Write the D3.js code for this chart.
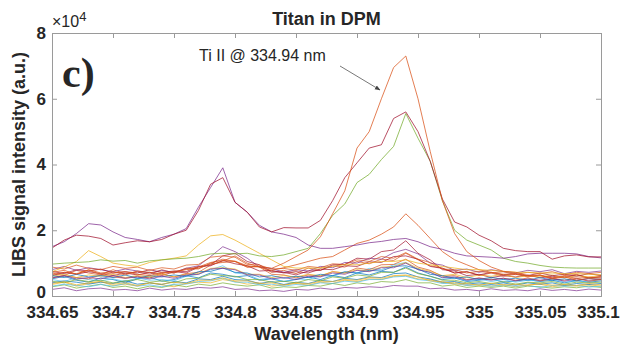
<!DOCTYPE html>
<html>
<head>
<meta charset="utf-8">
<script src="https://cdn.jsdelivr.net/npm/d3@7/dist/d3.min.js"></script>
<style>
  body { margin: 0; background: #fff; }
  text { font-family: "Liberation Sans", Arial, sans-serif; fill: #262626; }
</style>
</head>
<body>
<svg id="chart" width="620" height="348"></svg>
<script>
// wavelength grid (nm), intensities in units of 1e4 a.u.
const wavelength = [334.65,334.66,334.67,334.68,334.69,334.70,334.71,334.72,334.73,334.74,
  334.75,334.76,334.77,334.78,334.79,334.80,334.81,334.82,334.83,334.84,
  334.85,334.86,334.87,334.88,334.89,334.90,334.91,334.92,334.93,334.94,
  334.95,334.96,334.97,334.98,334.99,335.00,335.01,335.02,335.03,335.04,
  335.05,335.06,335.07,335.08,335.09,335.10];

const xTicks = [334.65, 334.7, 334.75, 334.8, 334.85, 334.9, 334.95, 335, 335.05, 335.1];
const xTickLabels = ["334.65","334.7","334.75","334.8","334.85","334.9","334.95","335","335.05","335.1"];
const yTicks = [0, 2, 4, 6, 8];

const orangePeak = [0.72,0.78,0.66,0.8,0.7,0.74,0.64,0.76,0.72,0.68,0.75,0.8,0.84,0.98,1.02,1.05,0.88,0.9,0.84,1.0,
  1.2,1.4,1.8,2.5,3.2,4.5,5.0,6.0,6.95,7.3,6.0,4.4,2.9,1.9,1.35,1.08,0.88,0.75,0.72,0.62,
  0.64,0.52,0.58,0.48,0.54,0.5];
const redPeak = [1.46,1.7,1.85,1.82,1.75,1.55,1.62,1.68,1.65,1.72,1.88,2.0,2.6,3.4,3.6,2.85,2.55,2.1,1.95,2.08,
  2.07,2.07,2.3,2.9,3.6,4.05,4.5,4.6,5.4,5.6,5.0,4.1,2.95,2.25,2.1,1.85,1.68,1.45,1.38,1.35,
  1.35,1.12,1.22,1.25,1.19,1.19];
const purplePeak = [1.5,1.65,1.9,2.2,2.16,1.95,1.78,1.72,1.65,1.78,1.88,2.05,2.7,3.3,3.9,2.85,2.55,2.15,1.95,1.88,
  1.78,1.55,1.45,1.45,1.5,1.55,1.62,1.66,1.72,1.75,1.65,1.5,1.42,1.3,1.22,1.2,1.18,1.15,1.2,1.28,
  1.3,1.3,1.3,1.28,1.2,1.16];
const greenPeak = [0.97,1.0,1.02,1.04,1.1,1.06,1.08,1.0,1.07,1.1,1.13,1.15,1.2,1.28,1.3,1.28,1.3,1.22,1.2,1.25,
  1.35,1.45,1.9,2.45,2.8,3.45,3.7,4.15,4.55,5.55,4.8,4.1,2.9,2.0,1.7,1.55,1.4,1.15,1.05,1.0,
  0.93,0.88,0.86,0.85,0.85,0.85];
const yellowLine = [0.74,0.88,1.05,1.38,1.2,1.0,0.94,0.9,1.02,1.1,1.15,1.22,1.55,1.83,1.87,1.7,1.5,1.3,1.1,0.9,
  0.85,0.85,0.85,0.9,0.95,0.95,1.0,1.05,1.05,1.1,1.0,0.95,0.9,0.85,0.8,0.8,0.78,0.75,0.72,0.72,
  0.7,0.7,0.68,0.68,0.66,0.65];
const orangeSmall = [0.65,0.72,0.68,0.78,0.66,0.7,0.74,0.66,0.62,0.72,0.7,0.82,0.88,1.02,1.08,1.06,0.92,0.88,0.78,0.86,
  0.95,1.05,1.15,1.2,1.4,1.6,1.7,1.88,2.1,2.5,2.15,1.75,1.35,1.1,0.95,0.8,0.72,0.66,0.68,0.6,
  0.62,0.55,0.6,0.54,0.57,0.55];

const background = [
  [0.52,0.6,0.48,0.42,0.55,0.5,0.4,0.52,0.58,0.45,0.5,0.62,0.55,0.7,0.66,0.58,0.62,0.48,0.52,0.44,0.5,0.58,0.5,0.62,0.56,0.7,0.64,0.75,0.72,0.88,0.7,0.6,0.5,0.55,0.44,0.48,0.52,0.42,0.46,0.5,0.44,0.48,0.4,0.47,0.42,0.46],
  [0.7,0.62,0.78,0.7,0.64,0.8,0.68,0.74,0.66,0.8,0.7,0.85,0.82,1.0,1.12,1.05,0.88,0.9,0.72,0.78,0.68,0.85,0.78,0.92,0.88,1.05,0.98,1.12,1.08,1.3,1.1,0.92,0.85,0.7,0.74,0.62,0.7,0.6,0.66,0.58,0.64,0.55,0.62,0.66,0.55,0.6],
  [0.35,0.42,0.3,0.38,0.44,0.32,0.36,0.3,0.4,0.34,0.28,0.38,0.42,0.4,0.5,0.44,0.36,0.4,0.3,0.34,0.38,0.33,0.42,0.38,0.48,0.44,0.52,0.5,0.6,0.62,0.52,0.5,0.4,0.42,0.32,0.36,0.3,0.35,0.28,0.34,0.36,0.28,0.33,0.3,0.34,0.3],
  [0.8,0.9,0.78,0.86,0.8,0.74,0.82,0.76,0.7,0.78,0.72,0.84,0.92,1.2,1.5,1.35,1.15,0.88,0.84,0.72,0.8,0.76,0.9,0.86,1.02,1.0,1.15,1.12,1.32,1.42,1.28,1.0,0.94,0.78,0.82,0.72,0.8,0.74,0.7,0.78,0.74,0.8,0.68,0.75,0.72,0.76],
  [0.28,0.34,0.24,0.3,0.36,0.26,0.3,0.22,0.3,0.26,0.34,0.28,0.36,0.32,0.4,0.34,0.3,0.34,0.24,0.28,0.26,0.32,0.3,0.38,0.32,0.4,0.36,0.44,0.42,0.5,0.4,0.4,0.3,0.34,0.26,0.3,0.26,0.3,0.24,0.3,0.28,0.24,0.28,0.25,0.3,0.26],
  [0.5,0.44,0.56,0.5,0.46,0.52,0.44,0.55,0.48,0.5,0.46,0.6,0.66,0.8,0.92,0.7,0.66,0.5,0.55,0.44,0.52,0.5,0.62,0.6,0.72,0.7,0.84,0.8,0.95,1.02,0.8,0.72,0.55,0.56,0.46,0.52,0.44,0.5,0.42,0.48,0.45,0.52,0.42,0.46,0.44,0.5],
  [0.62,0.72,0.66,0.74,0.68,0.62,0.7,0.64,0.72,0.62,0.74,0.7,0.88,0.95,1.22,1.3,1.05,0.95,0.74,0.72,0.64,0.76,0.78,0.95,0.96,1.15,1.12,1.35,1.4,1.68,1.3,1.1,0.8,0.76,0.62,0.66,0.56,0.62,0.58,0.64,0.55,0.6,0.56,0.64,0.55,0.58],
  [0.4,0.46,0.42,0.36,0.42,0.38,0.46,0.36,0.4,0.35,0.44,0.4,0.52,0.5,0.6,0.5,0.48,0.38,0.44,0.35,0.42,0.38,0.48,0.44,0.54,0.5,0.58,0.56,0.68,0.7,0.58,0.52,0.42,0.44,0.36,0.4,0.35,0.4,0.33,0.4,0.36,0.4,0.32,0.38,0.35,0.38],
  [0.55,0.62,0.56,0.52,0.64,0.58,0.54,0.6,0.55,0.66,0.58,0.68,0.72,0.94,1.06,1.22,1.0,0.88,0.66,0.64,0.55,0.64,0.6,0.74,0.7,0.85,0.8,0.95,0.96,1.12,0.88,0.78,0.6,0.62,0.5,0.55,0.5,0.54,0.48,0.55,0.46,0.52,0.48,0.54,0.45,0.5],
  [0.6,0.66,0.56,0.64,0.6,0.66,0.56,0.62,0.58,0.68,0.58,0.66,0.68,0.84,0.86,0.82,0.66,0.66,0.56,0.62,0.58,0.66,0.62,0.74,0.7,0.8,0.76,0.88,0.9,1.02,0.84,0.75,0.62,0.66,0.56,0.64,0.6,0.66,0.56,0.62,0.58,0.64,0.55,0.62,0.58,0.62],
  [0.2,0.25,0.16,0.22,0.24,0.18,0.2,0.16,0.24,0.18,0.22,0.2,0.26,0.24,0.28,0.2,0.22,0.16,0.18,0.14,0.2,0.18,0.24,0.2,0.26,0.24,0.28,0.26,0.32,0.3,0.3,0.22,0.24,0.18,0.2,0.16,0.22,0.17,0.19,0.16,0.22,0.17,0.2,0.16,0.21,0.18],
  [0.45,0.4,0.5,0.44,0.48,0.4,0.46,0.5,0.42,0.46,0.4,0.52,0.54,0.66,0.62,0.6,0.5,0.5,0.42,0.45,0.4,0.5,0.46,0.58,0.54,0.64,0.6,0.72,0.72,0.85,0.68,0.6,0.48,0.48,0.4,0.44,0.38,0.44,0.36,0.42,0.4,0.44,0.36,0.42,0.4,0.42],
  [0.3,0.36,0.32,0.28,0.35,0.3,0.38,0.3,0.34,0.28,0.36,0.36,0.44,0.46,0.54,0.42,0.42,0.34,0.36,0.3,0.35,0.32,0.4,0.38,0.45,0.42,0.5,0.5,0.58,0.6,0.5,0.46,0.38,0.38,0.32,0.34,0.3,0.33,0.3,0.32,0.26,0.32,0.3,0.32,0.27,0.3],
  [0.75,0.68,0.8,0.76,0.82,0.7,0.74,0.7,0.8,0.72,0.76,0.74,0.9,0.92,1.08,0.98,0.92,0.76,0.78,0.7,0.74,0.7,0.82,0.8,0.92,0.9,1.04,1.02,1.2,1.22,1.12,0.9,0.84,0.7,0.74,0.64,0.72,0.64,0.68,0.62,0.7,0.62,0.66,0.6,0.68,0.62],
  [0.62,0.56,0.66,0.58,0.62,0.56,0.64,0.54,0.62,0.58,0.64,0.6,0.74,0.75,0.85,0.72,0.7,0.58,0.62,0.54,0.6,0.56,0.66,0.62,0.74,0.7,0.78,0.76,0.9,0.92,0.82,0.66,0.62,0.54,0.58,0.5,0.57,0.5,0.54,0.48,0.56,0.48,0.52,0.46,0.54,0.5],
  [0.88,0.82,0.94,0.84,0.8,0.9,0.84,0.88,0.78,0.86,0.82,0.94,0.96,1.18,1.22,1.18,0.96,0.94,0.82,0.84,0.78,0.9,0.86,0.98,0.96,1.1,1.05,1.2,1.15,1.32,1.12,1.02,0.82,0.8,0.7,0.75,0.7,0.74,0.65,0.72,0.68,0.74,0.64,0.72,0.68,0.72],
  [0.38,0.44,0.34,0.4,0.44,0.36,0.4,0.32,0.4,0.36,0.42,0.38,0.48,0.48,0.55,0.46,0.46,0.38,0.4,0.33,0.4,0.37,0.45,0.44,0.5,0.48,0.56,0.54,0.62,0.64,0.58,0.46,0.44,0.36,0.38,0.32,0.39,0.33,0.36,0.32,0.38,0.33,0.35,0.32,0.38,0.34],
  [0.55,0.62,0.52,0.56,0.52,0.62,0.54,0.58,0.52,0.6,0.54,0.64,0.66,0.82,0.84,0.8,0.64,0.64,0.52,0.56,0.5,0.6,0.58,0.7,0.66,0.78,0.74,0.86,0.86,1.0,0.8,0.72,0.56,0.58,0.48,0.54,0.48,0.54,0.46,0.52,0.48,0.54,0.45,0.52,0.48,0.52]
];

// matlab default color order
const colorOrder = ["#0072BD","#D95319","#EDB120","#7E2F8E","#77AC30","#4DBEEE","#A2142F"];

const margin = { left: 52, right: 19, top: 33, bottom: 52 };
const W = 620, H = 348;

const svg = d3.select("#chart");

const x = d3.scaleLinear().domain([334.65, 335.1]).range([margin.left, W - margin.right]);
const y = d3.scaleLinear().domain([0, 8]).range([H - margin.bottom, margin.top]);

svg.append("defs").append("clipPath").attr("id", "plotclip")
  .append("rect")
  .attr("x", x.range()[0]).attr("y", y.range()[1])
  .attr("width", x.range()[1] - x.range()[0])
  .attr("height", y.range()[0] - y.range()[1]);

const line = d3.line()
  .x((d, i) => x(wavelength[i]))
  .y(d => y(d));

const plot = svg.append("g").attr("clip-path", "url(#plotclip)");

background.forEach((s, k) => {
  plot.append("path")
    .attr("d", line(s))
    .attr("fill", "none")
    .attr("stroke", colorOrder[k % colorOrder.length])
    .attr("stroke-opacity", 0.7)
    .attr("stroke-width", 1);
});

const mainSeries = [
  { values: orangeSmall, color: colorOrder[1] },
  { values: yellowLine, color: colorOrder[2] },
  { values: greenPeak, color: colorOrder[4] },
  { values: purplePeak, color: colorOrder[3] },
  { values: redPeak, color: colorOrder[6] },
  { values: orangePeak, color: colorOrder[1] }
];

mainSeries.forEach(s => {
  plot.append("path")
    .attr("d", line(s.values))
    .attr("fill", "none")
    .attr("stroke", s.color)
    .attr("stroke-opacity", 0.75)
    .attr("stroke-width", 1);
});

// axes box + inward ticks
const axisColor = "#9a9a9a";
const gx = svg.append("g").attr("transform", `translate(0,${y(0)})`)
  .call(d3.axisBottom(x).tickValues(xTicks).tickSize(-5).tickPadding(10)
    .tickFormat((d, i) => xTickLabels[i]));
const gxTop = svg.append("g").attr("transform", `translate(0,${y(8)})`)
  .call(d3.axisTop(x).tickValues(xTicks).tickSize(-5).tickFormat(""));
const gy = svg.append("g").attr("transform", `translate(${x(334.65)},0)`)
  .call(d3.axisLeft(y).tickValues(yTicks).tickSize(-5).tickPadding(6));
const gyRight = svg.append("g").attr("transform", `translate(${x(335.1)},0)`)
  .call(d3.axisRight(y).tickValues(yTicks).tickSize(-5).tickFormat(""));

[gx, gxTop, gy, gyRight].forEach(g => {
  g.select(".domain").attr("stroke", axisColor);
  g.selectAll(".tick line").attr("stroke", axisColor);
  g.selectAll(".tick text")
    .style("font-family", '"Liberation Sans", Arial, sans-serif')
    .style("font-weight", "bold")
    .style("font-size", "17px")
    .attr("fill", "#262626");
});
// last x label sits against the right edge, the "0" sits a little above the axis
gx.selectAll(".tick text").filter((d, i) => i === xTicks.length - 1).attr("dx", -3);
gy.selectAll(".tick text").filter(d => d === 0).attr("dy", "0.1em");

// title and labels
svg.append("text")
  .attr("x", (x.range()[0] + x.range()[1]) / 2).attr("y", 25)
  .attr("text-anchor", "middle")
  .style("font-weight", "bold").style("font-size", "18px")
  .text("Titan in DPM");

svg.append("text")
  .attr("x", (x.range()[0] + x.range()[1]) / 2).attr("y", 340)
  .attr("text-anchor", "middle")
  .style("font-weight", "bold").style("font-size", "18px")
  .text("Wavelength (nm)");

svg.append("text")
  .attr("transform", `translate(25,${(y.range()[0] + y.range()[1]) / 2}) rotate(-90)`)
  .attr("text-anchor", "middle")
  .style("font-weight", "bold").style("font-size", "18px")
  .text("LIBS signal intensity (a.u.)");

const expo = svg.append("text")
  .attr("x", 52).attr("y", 27)
  .style("font-size", "16px");
expo.append("tspan").text("\u00d710");
expo.append("tspan").attr("dy", -6).style("font-size", "13px").text("4");

svg.append("text")
  .attr("x", 62).attr("y", 87)
  .style("font-family", '"Liberation Serif", "Times New Roman", serif')
  .style("font-weight", "bold").style("font-size", "42px")
  .text("c)");

// annotation
svg.append("defs").append("marker")
  .attr("id", "arrowhead")
  .attr("viewBox", "0 0 10 10").attr("refX", 9).attr("refY", 5)
  .attr("markerWidth", 7).attr("markerHeight", 7)
  .attr("orient", "auto")
  .append("path").attr("d", "M0,1 L10,5 L0,9 z").attr("fill", "#444");

svg.append("text")
  .attr("x", 199).attr("y", 61)
  .style("font-size", "16px")
  .text("Ti II @ 334.94 nm");

svg.append("line")
  .attr("x1", 340).attr("y1", 66)
  .attr("x2", 380).attr("y2", 90)
  .attr("stroke", "#555").attr("stroke-width", 0.8)
  .attr("marker-end", "url(#arrowhead)");
</script>
</body>
</html>
